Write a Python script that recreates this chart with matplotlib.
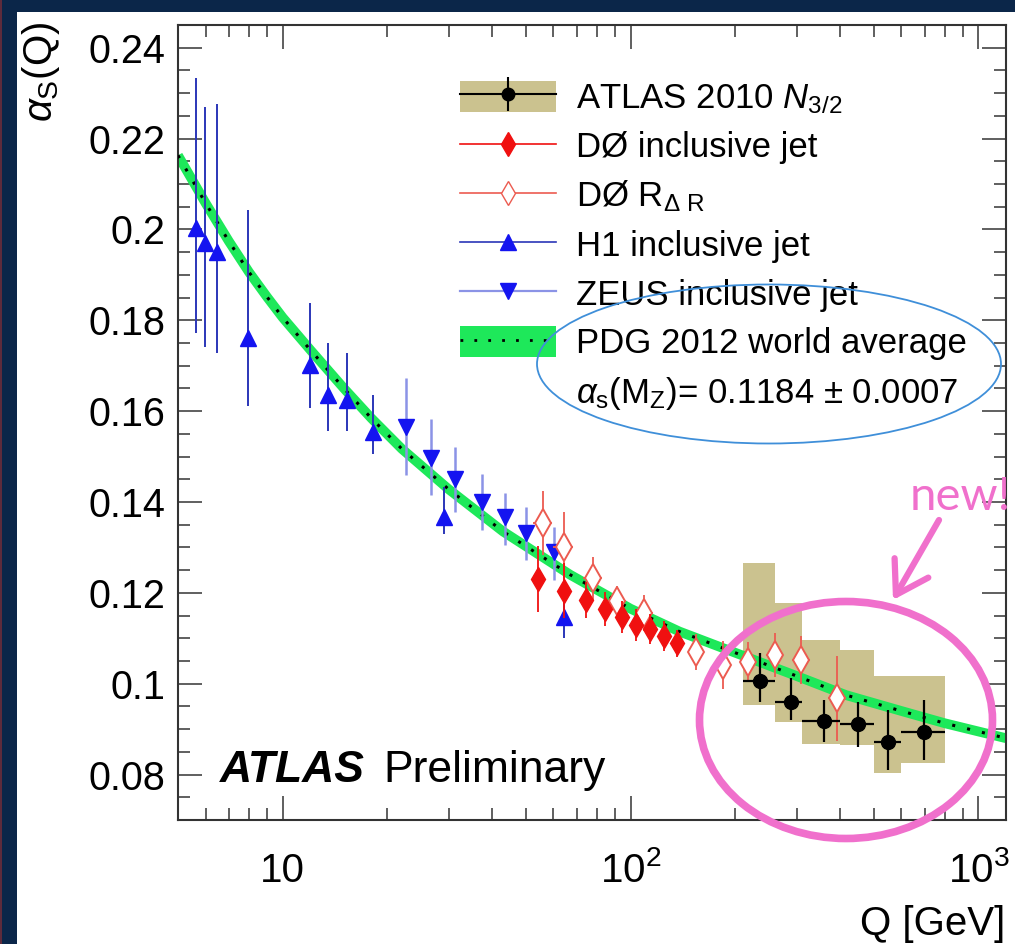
import numpy as np
import matplotlib.pyplot as plt
from matplotlib.patches import Rectangle, Ellipse, Patch
from matplotlib.lines import Line2D
from matplotlib.legend_handler import HandlerTuple
import matplotlib.transforms as mtransforms

plt.rcParams['font.family'] = ['Liberation Sans', 'DejaVu Sans']
plt.rcParams['mathtext.fontset'] = 'custom'
plt.rcParams['mathtext.rm'] = 'Liberation Sans'
plt.rcParams['mathtext.it'] = 'Liberation Sans:italic'
plt.rcParams['mathtext.bf'] = 'Liberation Sans:bold'

# PDG 2012 world average curve
pdg_q = [5.0, 6.0, 7.0, 8.0, 9.0, 10, 12, 15, 18, 22, 30, 43, 67, 100, 138, 215, 300, 416, 600, 800, 1200]
pdg_val = [0.2163, 0.2058, 0.1974, 0.1906, 0.1852, 0.1806, 0.1735, 0.1650, 0.1584, 0.1517, 0.1428,
           0.1335, 0.1240, 0.1165, 0.1115, 0.1059, 0.1017, 0.0975, 0.0940, 0.0913, 0.0880]

# ATLAS 2010 N3/2
atlas_lo = [210, 260, 310, 400, 500, 600]
atlas_hi = [260, 310, 400, 500, 600, 800]
atlas_q = [234.8, 289.5, 358.6, 449.7, 548.8, 699.6]
atlas_val = [0.1006, 0.0960, 0.0918, 0.0911, 0.0872, 0.0894]
atlas_up = [0.0061, 0.0052, 0.0046, 0.0049, 0.0070, 0.0070]
atlas_dn = [0.0046, 0.0040, 0.0046, 0.0050, 0.0062, 0.0062]
atlas_box_lo = [0.0953, 0.0916, 0.0867, 0.0865, 0.0803, 0.0826]
atlas_box_hi = [0.1265, 0.1177, 0.1097, 0.1074, 0.1017, 0.1017]

# D0 inclusive jet
d0_q = [54.2, 64.3, 74.3, 84.5, 94.4, 103.8, 113.8, 124.7, 135.6]
d0_val = [0.1230, 0.1205, 0.1184, 0.1164, 0.1146, 0.1129, 0.1120, 0.1104, 0.1089]
d0_err = [0.0073, 0.0060, 0.0040, 0.0037, 0.0035, 0.0035, 0.0033, 0.0033, 0.0030]

# D0 R_dR
d0r_q = [55.9, 64.3, 78.0, 91.5, 109.3, 154.6, 184.2, 217.5, 259.5, 309.4, 392.5]
d0r_val = [0.1354, 0.1302, 0.1232, 0.1181, 0.1155, 0.1070, 0.1041, 0.1048, 0.1063, 0.1052, 0.0968]
d0r_err = [0.0070, 0.0075, 0.0048, 0.0035, 0.0040, 0.0040, 0.0052, 0.0044, 0.0049, 0.0053, 0.0094]
d0r_qlo = [52.5, 60.0, 73.0, 86.0, 103.0, 146.0, 174.0, 206.0, 245.0, 292.0, 370.0]
d0r_qhi = [59.5, 68.5, 83.0, 97.0, 116.0, 163.0, 195.0, 229.0, 274.0, 327.0, 415.0]

# H1 inclusive jet
h1_q = [5.62, 5.99, 6.46, 7.93, 11.96, 13.47, 15.27, 18.14, 29.0, 64.3]
h1_val = [0.2003, 0.1970, 0.1950, 0.1761, 0.1702, 0.1636, 0.1625, 0.1554, 0.1367, 0.1146]
h1_up = [0.0330, 0.0300, 0.0326, 0.0281, 0.0136, 0.0114, 0.0103, 0.0082, 0.0066, 0.0045]
h1_dn = [0.0231, 0.0229, 0.0222, 0.0150, 0.0095, 0.0080, 0.0069, 0.0048, 0.0037, 0.0045]

# ZEUS inclusive jet
zeus_q = [22.67, 26.6, 31.3, 37.4, 43.5, 50.1, 60.2]
zeus_val = [0.1566, 0.1496, 0.1450, 0.1401, 0.1366, 0.1332, 0.1291]
zeus_up = [0.0107, 0.0086, 0.0071, 0.0061, 0.0053, 0.0057, 0.0054]
zeus_dn = [0.0107, 0.0081, 0.0072, 0.0063, 0.0061, 0.0060, 0.0063]

xticks = [10, 100, 1000]
xtick_labels = ["10", "$10^{2}$", "$10^{3}$"]
yticks = [0.08, 0.10, 0.12, 0.14, 0.16, 0.18, 0.20, 0.22, 0.24]
ytick_labels = ["0.08", "0.1", "0.12", "0.14", "0.16", "0.18", "0.2", "0.22", "0.24"]

tan = "#cbc28f"
green = "#1ee85a"
red = "#f01010"
salmon = "#ec5b50"
h1_line = "#2b36b8"
zeus_line = "#8b93e6"
blue = "#1414f0"
pink = "#f070cc"

W, H = 1015, 944
fig = plt.figure(figsize=(W / 100, H / 100), dpi=100, facecolor="#0b2649")
fig.add_artist(Rectangle((17 / W, 0), 1 - 17 / W, 1 - 12 / H, transform=fig.transFigure,
                         facecolor="white", edgecolor="none", zorder=0))
fig.add_artist(Rectangle((0, 0), 2 / W, 1, transform=fig.transFigure,
                         facecolor="#5e2b3c", edgecolor="none", zorder=0))

ax = fig.add_axes([178 / W, 1 - 820 / H, (1006 - 178) / W, (820 - 25) / H])
ax.set_xscale("log")
ax.set_xlim(5, 1200)
ax.set_ylim(0.07, 0.245)

# ATLAS boxes
lo = np.array(atlas_lo, float)
hi = np.array(atlas_hi, float)
blo = np.array(atlas_box_lo)
bhi = np.array(atlas_box_hi)
ax.bar(lo, bhi - blo, width=hi - lo, bottom=blo, align="edge", color=tan, edgecolor="none", zorder=1)

# PDG band
ax.plot(pdg_q, pdg_val, color=green, lw=7, solid_capstyle="butt", solid_joinstyle="round", zorder=2)
ax.plot(pdg_q, pdg_val, color="k", ls=(0, (1, 4)), lw=2.2, zorder=3)

# data sets
ax.errorbar(h1_q, h1_val, yerr=[h1_dn, h1_up], fmt="^", color=h1_line, mfc=blue, mec=blue,
            ms=11, lw=1.4, capsize=0, zorder=5)
ax.errorbar(zeus_q, zeus_val, yerr=[zeus_dn, zeus_up], fmt="v", color=zeus_line, mfc=blue, mec=blue,
            ms=11, lw=1.8, capsize=0, zorder=5)
d0rq = np.array(d0r_q)
ax.errorbar(d0r_q, d0r_val, yerr=d0r_err, xerr=[d0rq - np.array(d0r_qlo), np.array(d0r_qhi) - d0rq],
            fmt="d", color=salmon, mfc="white", mec=salmon, ms=14, mew=1.4, lw=1.3, capsize=0, zorder=6)
ax.errorbar(d0_q, d0_val, yerr=d0_err, fmt="d", color=red, mfc=red, mec=red,
            ms=12, lw=1.3, capsize=0, zorder=7)
aq = np.array(atlas_q)
ax.errorbar(atlas_q, atlas_val, xerr=[aq - lo, hi - aq], yerr=[atlas_dn, atlas_up], fmt="o",
            color="k", ms=10, lw=1.6, capsize=0, zorder=8)

# axes style
for s in ax.spines.values():
    s.set_linewidth(1.5)
    s.set_color("#333333")
ax.set_xticks(xticks)
ax.set_xticklabels([])
ax.set_yticks(yticks)
ax.set_yticklabels(ytick_labels, fontsize=28.5)
ax.yaxis.set_minor_locator(plt.MultipleLocator(0.005))
ax.tick_params(which="both", direction="in", top=True, right=True, color="#444444", width=1.2)
ax.tick_params(which="major", length=17)
ax.tick_params(which="minor", length=8.5)
ax.tick_params(axis="y", pad=9)
trans = mtransforms.blended_transform_factory(ax.transData, ax.transAxes)
for q, lab in zip(xticks, xtick_labels):
    ax.text(q, -0.078, lab, transform=trans, ha="center", va="baseline", fontsize=29)

fig.text(1005 / W, 1 - 935 / H, "Q [GeV]", ha="right", va="baseline", fontsize=29)
fig.text(62 / W, 1 - 22 / H, r"$\alpha_{\mathrm{S}}$(Q)", rotation=90, ha="right", va="top", fontsize=29)

ax.text(0.0507, 0.0478, "ATLAS", transform=ax.transAxes, fontsize=32,
        fontweight="bold", fontstyle="italic", va="baseline")
ax.text(0.2476, 0.0478, "Preliminary", transform=ax.transAxes, fontsize=32, va="baseline")

# legend
handles = [
    (Patch(facecolor=tan, edgecolor="none"),
     Line2D([], [], color="k", lw=1.5, marker="o", ms=9),
     Line2D([], [], color="k", lw=0, marker="|", ms=25, mew=1.5)),
    Line2D([], [], color=red, lw=1.2, marker="d", ms=12, mfc=red, mec=red),
    Line2D([], [], color=salmon, lw=1.2, marker="d", ms=12, mfc="white", mec=salmon),
    Line2D([], [], color=h1_line, lw=1.2, marker="^", ms=11, mfc=blue, mec=blue),
    Line2D([], [], color=zeus_line, lw=1.6, marker="v", ms=11, mfc=blue, mec=blue),
    (Patch(facecolor=green, edgecolor="none"), Line2D([], [], color="k", ls=(0, (1, 4)), lw=2)),
    Line2D([], [], alpha=0),
]
labels = [
    r"ATLAS 2010 $N_{3/2}$",
    "DØ inclusive jet",
    r"DØ R$_{\Delta\ \mathrm{R}}$",
    "H1 inclusive jet",
    "ZEUS inclusive jet",
    "PDG 2012 world average",
    r"$\alpha_{\mathrm{s}}$(M$_{\mathrm{Z}}$)= 0.1184 ± 0.0007",
]
ax.legend(handles, labels, handler_map={tuple: HandlerTuple(ndivide=1)}, loc="upper left",
          bbox_to_anchor=(0.3406, 0.93), frameon=False, fontsize=25, handlelength=2.75,
          handleheight=1.0, handletextpad=0.6, labelspacing=0.41, borderpad=0, borderaxespad=0)

# slide annotations
fig.add_artist(Ellipse((769 / W, 1 - 364 / H), 464 / W, 159 / H, transform=fig.transFigure,
                       fill=False, edgecolor="#3f8fd9", lw=1.3))
fig.add_artist(Ellipse((846 / W, 1 - 720 / H), 293 / W, 237 / H, transform=fig.transFigure,
                       fill=False, edgecolor=pink, lw=5.5))
fig.text(960 / W, 1 - 497 / H, "new!", color=pink, fontsize=34, family="Lato", ha="center", va="center")
ax.annotate("", xy=(893 / W, 1 - 600 / H), xycoords="figure fraction",
            xytext=(939 / W, 1 - 520 / H), textcoords="figure fraction",
            arrowprops=dict(arrowstyle="->,head_length=1.6,head_width=1.0", color=pink, lw=4.5,
                            mutation_scale=14, shrinkA=0, shrinkB=0))

fig.savefig("out.png", dpi=100, facecolor=fig.get_facecolor())
